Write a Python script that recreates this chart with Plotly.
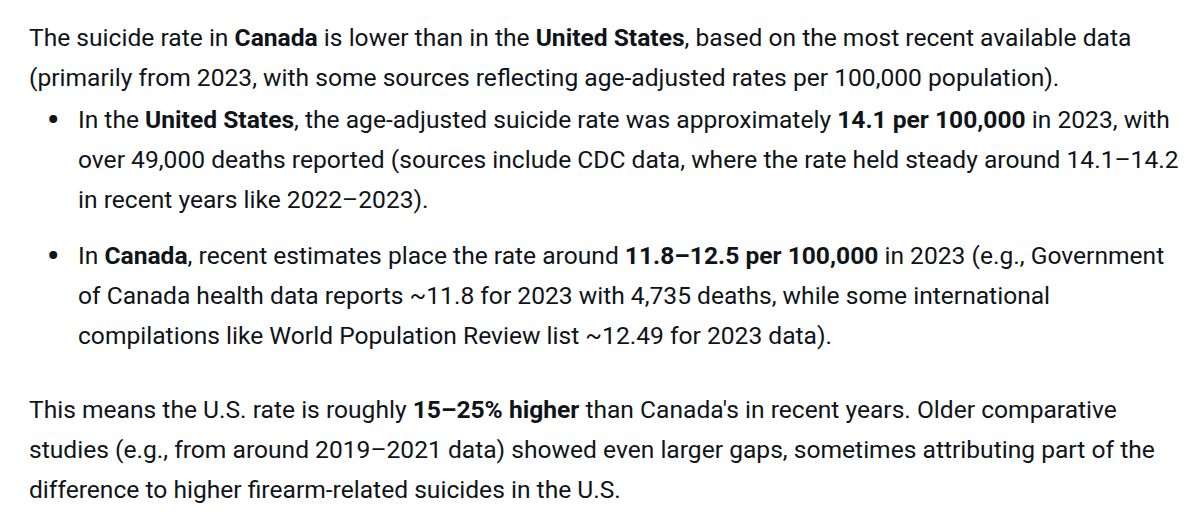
import plotly.graph_objects as go

# Textzeilen (mit <b> für fette Stellen)
absatz1 = [
    "The suicide rate in <b>Canada</b> is lower than in the <b>United States</b>, based on the most recent available data",
    "(primarily from 2023, with some sources reflecting age-adjusted rates per 100,000 population).",
]
punkt_usa = [
    "In the <b>United States</b>, the age-adjusted suicide rate was approximately <b>14.1 per 100,000</b> in 2023, with",
    "over 49,000 deaths reported (sources include CDC data, where the rate held steady around 14.1–14.2",
    "in recent years like 2022–2023).",
]
punkt_kanada = [
    "In <b>Canada</b>, recent estimates place the rate around <b>11.8–12.5 per 100,000</b> in 2023 (e.g., Government",
    "of Canada health data reports ~11.8 for 2023 with 4,735 deaths, while some international",
    "compilations like World Population Review list ~12.49 for 2023 data).",
]
absatz2 = [
    "This means the U.S. rate is roughly <b>15–25% higher</b> than Canada's in recent years. Older comparative",
    "studies (e.g., from around 2019–2021 data) showed even larger gaps, sometimes attributing part of the",
    "difference to higher firearm-related suicides in the U.S.",
]

# Grundlinien der Zeilen (Pixel von oben)
grundlinien_absatz1 = [46, 86]
grundlinien_usa = [128, 168, 208]
grundlinien_kanada = [264, 304, 344]
grundlinien_absatz2 = [418, 458, 498]

schrift = "Roboto"
groesse = 24.6
farbe = "#0f1419"

# Seite hat 8px Rand (body margin), Achsen so legen, dass Koordinaten = Bildpixel
rand = 8

fig = go.Figure()

def zeilen_hinzufuegen(zeilen, grundlinien, x_start, bullet=False):
    for i, (text, y) in enumerate(zip(zeilen, grundlinien)):
        fig.add_annotation(
            x=x_start, y=y - 0.33 * groesse, xref="x", yref="y",
            text=text, showarrow=False, xanchor="left", yanchor="middle",
            align="left", font=dict(family=schrift, size=groesse, color=farbe),
        )
        if bullet and i == 0:
            fig.add_annotation(
                x=53, y=y - 0.36 * groesse, xref="x", yref="y",
                text="<b>•</b>", showarrow=False, xanchor="center", yanchor="middle",
                font=dict(family=schrift, size=34, color=farbe),
            )

zeilen_hinzufuegen(absatz1, grundlinien_absatz1, 27)
zeilen_hinzufuegen(punkt_usa, grundlinien_usa, 76, bullet=True)
zeilen_hinzufuegen(punkt_kanada, grundlinien_kanada, 76, bullet=True)
zeilen_hinzufuegen(absatz2, grundlinien_absatz2, 27)

fig.update_layout(
    width=1200 - 2 * rand, height=522 - 2 * rand,
    margin=dict(l=0, r=0, t=0, b=0),
    paper_bgcolor="white", plot_bgcolor="white",
    xaxis=dict(range=[rand, 1200 - rand], visible=False, fixedrange=True),
    yaxis=dict(range=[522 - rand, rand], visible=False, fixedrange=True),
    showlegend=False,
)

fig.write_html("out.html")
